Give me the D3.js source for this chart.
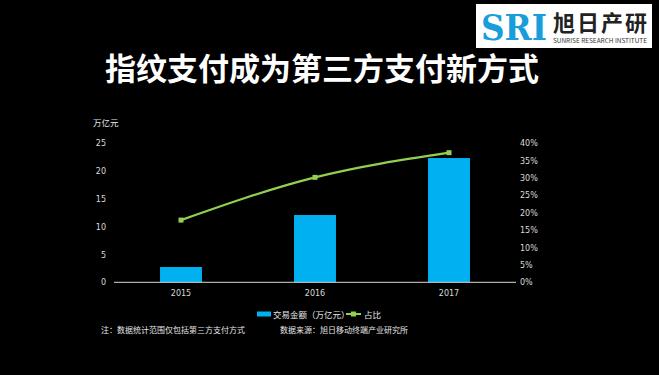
<!DOCTYPE html>
<html>
<head>
<meta charset="utf-8">
<script src="https://cdn.jsdelivr.net/npm/d3@7"></script>
<style>
  body { margin: 0; background: #000; }
  svg { display: block; font-family: "Noto Sans CJK SC", "DejaVu Sans", sans-serif; }
</style>
</head>
<body>
<div id="chart"></div>
<script>
var years = ["2015", "2016", "2017"],
    amounts = [2.75, 12.1, 22.35],   // 交易金额 (万亿元)
    shares = [0.179, 0.302, 0.373];  // 占比

var leftTicks = [0, 5, 10, 15, 20, 25],
    rightTicks = [0, 0.05, 0.1, 0.15, 0.2, 0.25, 0.3, 0.35, 0.4];

var width = 659, height = 375;
var plot = {left: 114, right: 516, top: 143.3, bottom: 282.3};

var svg = d3.select("#chart").append("svg")
    .attr("width", width)
    .attr("height", height)
    .style("background", "#000");

// logo box
var logo = svg.append("g").attr("transform", "translate(476,4)");
logo.append("rect").attr("width", 176).attr("height", 44).attr("fill", "#fff");
logo.append("text")
    .attr("x", 5).attr("y", 36)
    .attr("font-family", "DejaVu Serif, serif")
    .attr("font-weight", "bold")
    .attr("font-size", 36)
    .attr("textLength", 66)
    .attr("lengthAdjust", "spacingAndGlyphs")
    .attr("fill", "#1a9ddb")
    .text("SRI");
logo.append("text")
    .attr("x", 77).attr("y", 27)
    .attr("font-size", 22)
    .attr("font-weight", "bold")
    .attr("fill", "#222")
    .attr("textLength", 94)
    .text("旭日产研");
logo.append("text")
    .attr("x", 77).attr("y", 39)
    .attr("font-size", 6.2)
    .attr("fill", "#333")
    .attr("textLength", 94)
    .attr("lengthAdjust", "spacingAndGlyphs")
    .text("SUNRISE RESEARCH INSTITUTE");

// title
svg.append("text")
    .attr("x", 322).attr("y", 80)
    .attr("text-anchor", "middle")
    .attr("font-size", 31)
    .attr("font-weight", "bold")
    .attr("fill", "#fff")
    .text("指纹支付成为第三方支付新方式");

var x = d3.scaleBand()
    .domain(years)
    .range([plot.left, plot.right])
    .paddingInner(0.687)
    .paddingOuter(0.3435);

var y = d3.scaleLinear().domain([0, 25]).range([plot.bottom, plot.top]);
var y2 = d3.scaleLinear().domain([0, 0.4]).range([plot.bottom, plot.top]);

// bars
svg.selectAll(".bar")
    .data(amounts)
    .enter().append("rect")
    .attr("class", "bar")
    .attr("x", function(d, i) { return x(years[i]); })
    .attr("y", function(d) { return y(d); })
    .attr("width", x.bandwidth())
    .attr("height", function(d) { return y(0) - y(d); })
    .attr("fill", "#00b0f0");

// axes
var leftAxis = d3.axisLeft(y).tickValues(leftTicks).tickSize(0).tickPadding(7);
var rightAxis = d3.axisRight(y2).tickValues(rightTicks).tickSize(0).tickPadding(4)
    .tickFormat(d3.format(".0%"));
var bottomAxis = d3.axisBottom(x).tickSize(0).tickPadding(8);

function styleAxis(g) {
  g.select(".domain").remove();
  g.selectAll("text")
    .attr("fill", "#d9d9d9")
    .attr("font-size", 8)
    .attr("font-family", "DejaVu Sans, sans-serif");
}

svg.append("g")
    .attr("transform", "translate(" + (plot.left - 1) + ",0)")
    .call(leftAxis).call(styleAxis);

svg.append("g")
    .attr("transform", "translate(" + plot.right + ",0)")
    .call(rightAxis).call(styleAxis);

svg.append("g")
    .attr("transform", "translate(0," + plot.bottom + ")")
    .call(bottomAxis).call(styleAxis);

svg.append("line")
    .attr("x1", plot.left).attr("x2", plot.right)
    .attr("y1", plot.bottom).attr("y2", plot.bottom)
    .attr("stroke", "#d9d9d9").attr("stroke-width", 1);

// unit label
svg.append("text")
    .attr("x", 93).attr("y", 126)
    .attr("font-size", 8.5)
    .attr("fill", "#e6e6e6")
    .text("万亿元");

// share line
var line = d3.line()
    .x(function(d, i) { return x(years[i]) + x.bandwidth() / 2; })
    .y(function(d) { return y2(d); })
    .curve(d3.curveMonotoneX);

svg.append("path")
    .datum(shares)
    .attr("d", line)
    .attr("fill", "none")
    .attr("stroke", "#92d050")
    .attr("stroke-width", 2.2);

svg.selectAll(".pt")
    .data(shares)
    .enter().append("rect")
    .attr("class", "pt")
    .attr("x", function(d, i) { return x(years[i]) + x.bandwidth() / 2 - 2.5; })
    .attr("y", function(d) { return y2(d) - 2.5; })
    .attr("width", 5).attr("height", 5)
    .attr("fill", "#92d050");

// legend
var legend = svg.append("g").attr("font-size", 8.5).attr("fill", "#e6e6e6");
legend.append("rect")
    .attr("x", 257).attr("y", 311.5).attr("width", 14).attr("height", 5)
    .attr("fill", "#00b0f0");
legend.append("text").attr("x", 273).attr("y", 317.5).text("交易金额（万亿元）");
legend.append("line")
    .attr("x1", 346).attr("x2", 361).attr("y1", 314).attr("y2", 314)
    .attr("stroke", "#92d050").attr("stroke-width", 2);
legend.append("rect")
    .attr("x", 351).attr("y", 311.5).attr("width", 5).attr("height", 5)
    .attr("fill", "#92d050");
legend.append("text").attr("x", 364).attr("y", 317.5).text("占比");

// notes
svg.append("text")
    .attr("x", 101).attr("y", 333)
    .attr("font-size", 8)
    .attr("fill", "#e6e6e6")
    .text("注：数据统计范围仅包括第三方支付方式");
svg.append("text")
    .attr("x", 280).attr("y", 333)
    .attr("font-size", 8)
    .attr("fill", "#e6e6e6")
    .text("数据来源：旭日移动终端产业研究所");
</script>
</body>
</html>
